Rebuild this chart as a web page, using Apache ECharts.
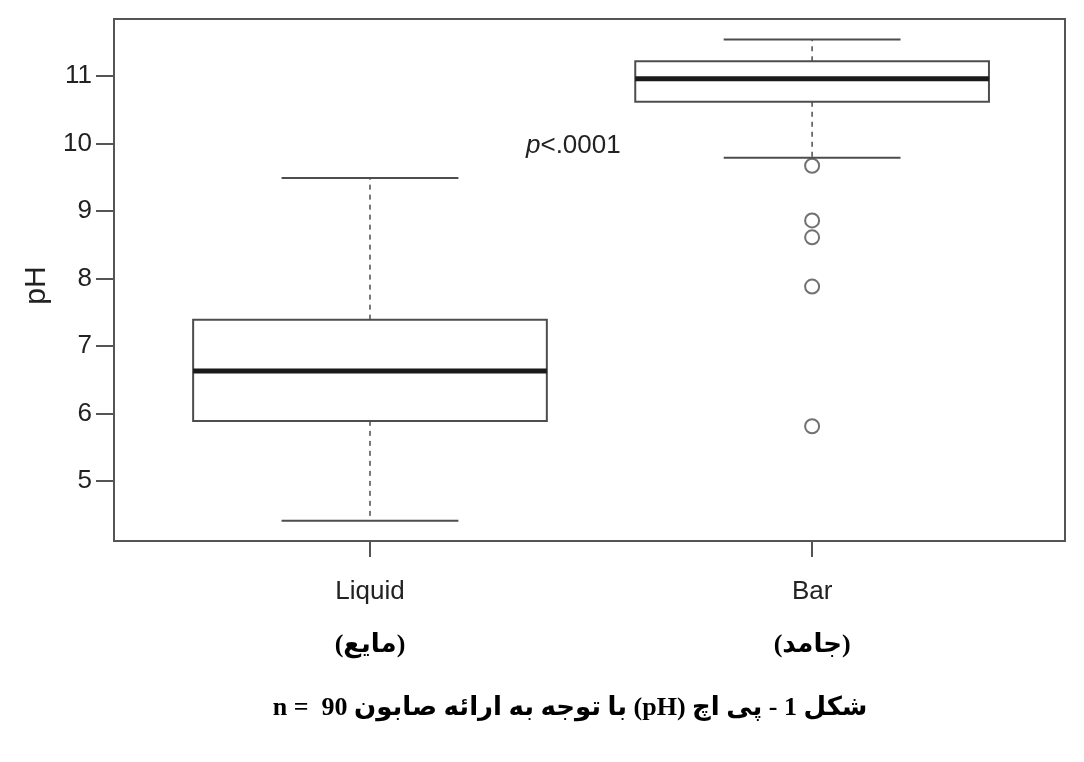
<!DOCTYPE html>
<html>
<head>
<meta charset="utf-8">
<script src="https://cdn.jsdelivr.net/npm/echarts@6/dist/echarts.min.js"></script>
<style>
html,body{margin:0;padding:0;background:#fff;}
#chart{width:1084px;height:762px;}
</style>
</head>
<body>
<div id="chart"></div>
<script>
const categories = ['Liquid', 'Bar'];
const categoriesFa = ['(مایع)', '(جامد)'];
const lowerWhisker = [4.41, 9.79];
const q1 = [5.89, 10.62];
const median = [6.63, 10.96];
const q3 = [7.39, 11.22];
const upperWhisker = [9.49, 11.54];
const outliers = [[1, 9.67], [1, 8.86], [1, 8.61], [1, 7.88], [1, 5.81]];
const yTicks = [5, 6, 7, 8, 9, 10, 11];
const caption = '\u2067شکل 1 - پی اچ (pH) با توجه به ارائه صابون 90  = n\u2069';

const boxData = categories.map((c, i) => [i, lowerWhisker[i], q1[i], median[i], q3[i], upperWhisker[i]]);

const chart = echarts.init(document.getElementById('chart'), null, {renderer: 'canvas'});
const SANS = 'Liberation Sans, Arial, sans-serif';
const SERIF_FA = "'Liberation Serif', 'DejaVu Sans', serif";

function renderBox(params, api) {
  const i = api.value(0);
  const unit = api.size([1, 0])[0];
  const half = unit * 0.4;
  const capHalf = unit * 0.2;
  const pLo = api.coord([i, api.value(1)]);
  const pQ1 = api.coord([i, api.value(2)]);
  const pMed = api.coord([i, api.value(3)]);
  const pQ3 = api.coord([i, api.value(4)]);
  const pHi = api.coord([i, api.value(5)]);
  const cx = pMed[0];
  const gray = '#4d4d4d';
  return {
    type: 'group',
    children: [
      {type: 'line', shape: {x1: cx, y1: pQ3[1], x2: cx, y2: pHi[1]},
        style: {stroke: gray, lineWidth: 1.5, lineDash: [5, 5]}},
      {type: 'line', shape: {x1: cx, y1: pQ1[1], x2: cx, y2: pLo[1]},
        style: {stroke: gray, lineWidth: 1.5, lineDash: [5, 5]}},
      {type: 'line', shape: {x1: cx - capHalf, y1: pHi[1], x2: cx + capHalf, y2: pHi[1]},
        style: {stroke: gray, lineWidth: 2}},
      {type: 'line', shape: {x1: cx - capHalf, y1: pLo[1], x2: cx + capHalf, y2: pLo[1]},
        style: {stroke: gray, lineWidth: 2}},
      {type: 'rect', shape: {x: cx - half, y: pQ3[1], width: half * 2, height: pQ1[1] - pQ3[1]},
        style: {fill: '#fff', stroke: gray, lineWidth: 2}},
      {type: 'line', shape: {x1: cx - half, y1: pMed[1], x2: cx + half, y2: pMed[1]},
        style: {stroke: '#1a1a1a', lineWidth: 5}}
    ]
  };
}

const option = {
  backgroundColor: '#fff',
  animation: false,
  grid: {left: 114, right: 19, top: 19, bottom: 221, show: true,
    borderColor: '#555', borderWidth: 2, backgroundColor: 'transparent'},
  xAxis: {
    type: 'value', min: -0.579, max: 1.572,
    splitLine: {show: false},
    axisLine: {show: false, onZero: false},
    axisTick: {show: true, customValues: [0, 1], length: 16, lineStyle: {color: '#555', width: 2}},
    axisLabel: {
      customValues: [0, 1], margin: 36,
      formatter: v => '{en|' + categories[Math.round(v)] + '}\n{fa|' + categoriesFa[Math.round(v)] + '}',
      rich: {
        en: {fontSize: 26, fontFamily: SANS, color: '#222', lineHeight: 30},
        fa: {fontSize: 26, fontWeight: 'bold', fontFamily: SERIF_FA, color: '#000', lineHeight: 76}
      }
    }
  },
  yAxis: {
    type: 'value', min: 4.11, max: 11.845,
    name: 'pH', nameLocation: 'middle', nameRotate: 90, nameGap: 58,
    nameTextStyle: {fontSize: 30, fontFamily: SANS, color: '#222', padding: [0, 11, 0, 0]},
    splitLine: {show: false},
    axisLine: {show: false, onZero: false},
    axisTick: {show: true, customValues: yTicks, length: 18, lineStyle: {color: '#555', width: 2}},
    axisLabel: {customValues: yTicks, margin: 22, fontSize: 26, fontFamily: SANS, color: '#222'}
  },
  series: [
    {type: 'custom', renderItem: renderBox, data: boxData,
      encode: {x: 0, y: [1, 2, 3, 4, 5]}, z: 2},
    {type: 'scatter', data: outliers, symbol: 'emptyCircle', symbolSize: 14,
      itemStyle: {color: '#4d4d4d', borderColor: '#4d4d4d', borderWidth: 2}, z: 3}
  ],
  graphic: [
    {type: 'text', x: 526, y: 146,
      style: {text: '{i|p}{n|<.0001}', verticalAlign: 'middle', align: 'left', rich: {
        i: {fontSize: 26, fontStyle: 'italic', fontFamily: SANS, fill: '#222'},
        n: {fontSize: 26, fontFamily: SANS, fill: '#222'}
      }}},
    {type: 'text', x: 570, y: 708,
      style: {text: caption, fontSize: 26, fontWeight: 'bold',
        fontFamily: SERIF_FA, fill: '#000',
        align: 'center', verticalAlign: 'middle'}}
  ]
};
chart.setOption(option);
</script>
</body>
</html>
